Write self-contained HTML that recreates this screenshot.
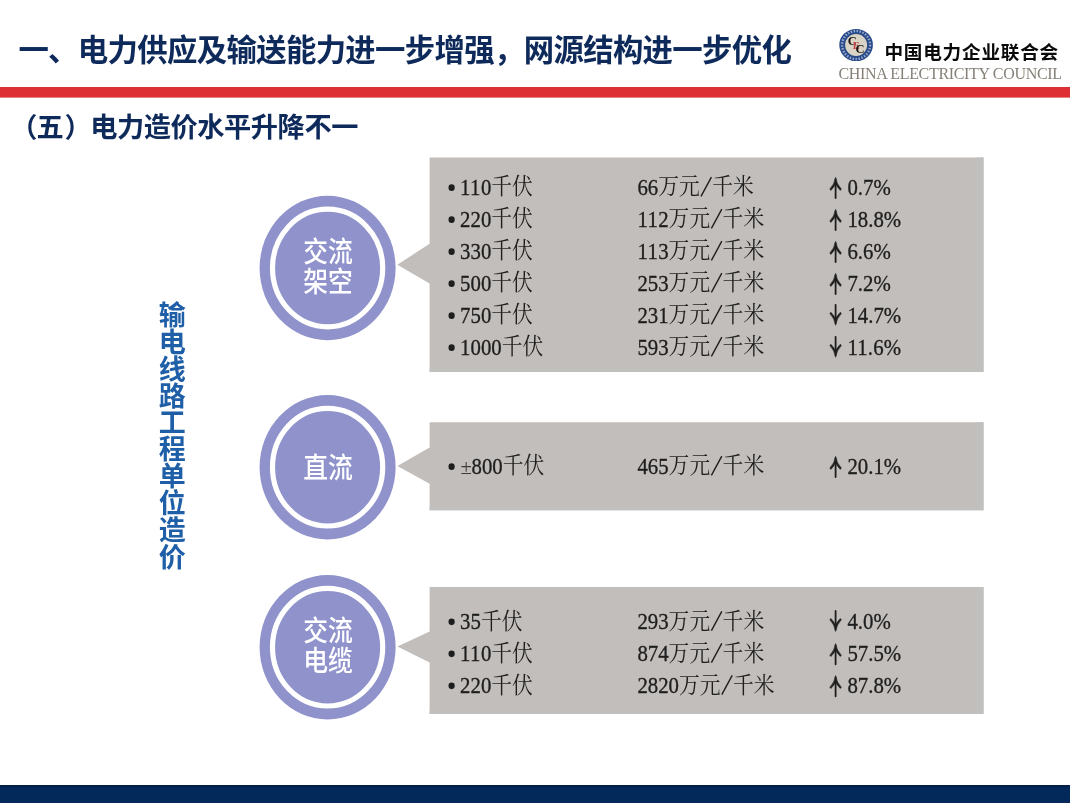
<!DOCTYPE html>
<html lang="zh-CN">
<head>
<meta charset="utf-8">
<title>电力造价水平升降不一</title>
<style>
html,body{margin:0;padding:0;background:#fff;}
body{width:1070px;height:803px;position:relative;overflow:hidden;font-family:"Liberation Sans",sans-serif;}
svg{position:absolute;left:0;top:0;display:block;}
.t{position:absolute;white-space:nowrap;color:transparent;line-height:1.1;font-family:"Liberation Serif",serif;overflow:hidden;pointer-events:none;}
.sb{font-family:"Liberation Sans","Noto Sans CJK SC",sans-serif;font-weight:bold;}
.sm{font-family:"Liberation Sans","Noto Sans CJK SC",sans-serif;font-weight:500;}
.ser{font-family:"Liberation Serif","Noto Serif CJK SC",serif;}
</style>
</head>
<body>
<svg width="1070" height="803" viewBox="0 0 1070 803" aria-hidden="true">
<defs><filter id="soft" x="-2%" y="-2%" width="104%" height="104%" color-interpolation-filters="sRGB"><feGaussianBlur stdDeviation="0.45"/></filter></defs>
<g filter="url(#soft)">
<rect x="-10" y="-10" width="1090" height="823" fill="#fff"/>
<text class="sb" x="18.4" y="61" font-size="30.4" textLength="773.5" lengthAdjust="spacing" fill="#0e2a5b">一、电力供应及输送能力进一步增强，网源结构进一步优化</text>
<rect x="-10" y="87" width="1090" height="10.6" fill="#dd3034"/>
<text class="sb" y="137.2" font-size="27.2" fill="#0e2a5b" x="10.2 36.58 64.56 90.14 116.92 143.7 170.48 197.26 224.04 250.82 277.6 304.38 331.16">（五）电力造价水平升降不一</text>
<g>
<ellipse cx="856.1" cy="45.0" rx="16.8" ry="16.1" fill="#27498a"/>
<circle cx="856.1" cy="45.0" r="14.000000000000002" fill="none" stroke="#c9d3e6" stroke-width="2.4" stroke-dasharray="1.5 1.5" opacity="0.7"/>
<circle cx="856.1" cy="45.0" r="11" fill="#d9d3c6"/>
<g font-family="'Liberation Serif',serif" font-weight="bold" font-size="12.5" text-anchor="middle">
<text x="852.3000000000001" y="45.4" fill="#16110f">C</text>
<text x="856.3000000000001" y="48.8" fill="#c8464a" font-size="10.5">E</text>
<text x="860.1" y="53.2" fill="#16110f">C</text>
</g></g>
<text class="sb" x="884.4" y="59.4" font-size="18.6" textLength="173.8" lengthAdjust="spacing" fill="#0a0a0a">中国电力企业联合会</text>
<text x="838.4" y="79.4" font-family="'Liberation Serif',serif" font-size="16.0" textLength="223.6" lengthAdjust="spacing" fill="#857f76">CHINA ELECTRICITY COUNCIL</text>
<text class="sb" font-size="27" fill="#1f5fa8" x="158.8 158.8 158.8 158.8 158.8 158.8 158.8 158.8 158.8 158.8" y="324.76 351.68 378.6 405.52 432.44 459.36 486.28 513.2 540.12 567.04">输电线路工程单位造价</text>
<ellipse cx="327.6" cy="268" rx="68.0" ry="72.2" fill="#8f92cb"/>
<ellipse cx="327.6" cy="268" rx="55.1" ry="58.8" fill="none" stroke="#fff" stroke-width="5.2"/>
<g transform="translate(328,266.4) scale(1,1.14)">
<text class="sm" x="-24.8" y="-3.68" font-size="24.8" fill="#fff">交流</text>
<text class="sm" x="-24.8" y="22.52" font-size="24.8" fill="#fff">架空</text>
</g>
<path d="M429.6 157.6H983.5V371.9H429.6V283.5L397.4 264.7L429.6 243.7Z" fill="#c2bebb"/>
<path d="M976.9 157.6H983.5V371.9H429.6V368.7H976.9Z" fill="#c0c0bf"/>
<g transform="translate(0,195) scale(1,1.067)">
<circle cx="451.6" cy="-6.9" r="3.1" fill="#1e1e1e"/>
<text x="460.08" y="0" font-family="'Liberation Serif',serif" font-size="20.8" textLength="31.2" lengthAdjust="spacing" fill="#1e1e1e" stroke="#1e1e1e" stroke-width="0.3">110</text>
<text class="ser" x="491.28" y="-0.5" font-size="20.8" fill="#1e1e1e">千伏</text>
<text x="637.4" y="0" font-family="'Liberation Serif',serif" font-size="20.8" textLength="20.8" lengthAdjust="spacing" fill="#1e1e1e" stroke="#1e1e1e" stroke-width="0.3">66</text>
<text class="ser" x="658.2" y="-0.5" font-size="20.8" fill="#1e1e1e">万元</text>
<path d="M701 1.4L711.4 -16.8" stroke="#1e1e1e" stroke-width="1.4" fill="none"/>
<text class="ser" x="712.2" y="-0.5" font-size="20.8" fill="#1e1e1e">千米</text>
<path d="M835.6 2.9V-14.7" fill="none" stroke="#1e1e1e" stroke-width="1.8" stroke-linecap="round"/><path d="M835.6 -16.6Q834.4 -10 829.8 -5.6L830.9 -4.3Q834.3 -7.6 835.6 -10.6Q836.9 -7.6 840.3 -4.3L841.4 -5.6Q836.8 -10 835.6 -16.6Z" fill="#1e1e1e" stroke="#1e1e1e" stroke-width="0.5" stroke-linejoin="round"/>
<text x="847.4" y="0" font-family="'Liberation Serif',serif" font-size="20.8" textLength="43.33" lengthAdjust="spacing" fill="#1e1e1e" stroke="#1e1e1e" stroke-width="0.3">0.7%</text>
</g>
<g transform="translate(0,227) scale(1,1.067)">
<circle cx="451.6" cy="-6.9" r="3.1" fill="#1e1e1e"/>
<text x="460.08" y="0" font-family="'Liberation Serif',serif" font-size="20.8" textLength="31.2" lengthAdjust="spacing" fill="#1e1e1e" stroke="#1e1e1e" stroke-width="0.3">220</text>
<text class="ser" x="491.28" y="-0.5" font-size="20.8" fill="#1e1e1e">千伏</text>
<text x="637.4" y="0" font-family="'Liberation Serif',serif" font-size="20.8" textLength="31.2" lengthAdjust="spacing" fill="#1e1e1e" stroke="#1e1e1e" stroke-width="0.3">112</text>
<text class="ser" x="668.6" y="-0.5" font-size="20.8" fill="#1e1e1e">万元</text>
<path d="M711.4 1.4L721.8 -16.8" stroke="#1e1e1e" stroke-width="1.4" fill="none"/>
<text class="ser" x="722.6" y="-0.5" font-size="20.8" fill="#1e1e1e">千米</text>
<path d="M835.6 2.9V-14.7" fill="none" stroke="#1e1e1e" stroke-width="1.8" stroke-linecap="round"/><path d="M835.6 -16.6Q834.4 -10 829.8 -5.6L830.9 -4.3Q834.3 -7.6 835.6 -10.6Q836.9 -7.6 840.3 -4.3L841.4 -5.6Q836.8 -10 835.6 -16.6Z" fill="#1e1e1e" stroke="#1e1e1e" stroke-width="0.5" stroke-linejoin="round"/>
<text x="847.4" y="0" font-family="'Liberation Serif',serif" font-size="20.8" textLength="53.73" lengthAdjust="spacing" fill="#1e1e1e" stroke="#1e1e1e" stroke-width="0.3">18.8%</text>
</g>
<g transform="translate(0,259) scale(1,1.067)">
<circle cx="451.6" cy="-6.9" r="3.1" fill="#1e1e1e"/>
<text x="460.08" y="0" font-family="'Liberation Serif',serif" font-size="20.8" textLength="31.2" lengthAdjust="spacing" fill="#1e1e1e" stroke="#1e1e1e" stroke-width="0.3">330</text>
<text class="ser" x="491.28" y="-0.5" font-size="20.8" fill="#1e1e1e">千伏</text>
<text x="637.4" y="0" font-family="'Liberation Serif',serif" font-size="20.8" textLength="31.2" lengthAdjust="spacing" fill="#1e1e1e" stroke="#1e1e1e" stroke-width="0.3">113</text>
<text class="ser" x="668.6" y="-0.5" font-size="20.8" fill="#1e1e1e">万元</text>
<path d="M711.4 1.4L721.8 -16.8" stroke="#1e1e1e" stroke-width="1.4" fill="none"/>
<text class="ser" x="722.6" y="-0.5" font-size="20.8" fill="#1e1e1e">千米</text>
<path d="M835.6 2.9V-14.7" fill="none" stroke="#1e1e1e" stroke-width="1.8" stroke-linecap="round"/><path d="M835.6 -16.6Q834.4 -10 829.8 -5.6L830.9 -4.3Q834.3 -7.6 835.6 -10.6Q836.9 -7.6 840.3 -4.3L841.4 -5.6Q836.8 -10 835.6 -16.6Z" fill="#1e1e1e" stroke="#1e1e1e" stroke-width="0.5" stroke-linejoin="round"/>
<text x="847.4" y="0" font-family="'Liberation Serif',serif" font-size="20.8" textLength="43.33" lengthAdjust="spacing" fill="#1e1e1e" stroke="#1e1e1e" stroke-width="0.3">6.6%</text>
</g>
<g transform="translate(0,291) scale(1,1.067)">
<circle cx="451.6" cy="-6.9" r="3.1" fill="#1e1e1e"/>
<text x="460.08" y="0" font-family="'Liberation Serif',serif" font-size="20.8" textLength="31.2" lengthAdjust="spacing" fill="#1e1e1e" stroke="#1e1e1e" stroke-width="0.3">500</text>
<text class="ser" x="491.28" y="-0.5" font-size="20.8" fill="#1e1e1e">千伏</text>
<text x="637.4" y="0" font-family="'Liberation Serif',serif" font-size="20.8" textLength="31.2" lengthAdjust="spacing" fill="#1e1e1e" stroke="#1e1e1e" stroke-width="0.3">253</text>
<text class="ser" x="668.6" y="-0.5" font-size="20.8" fill="#1e1e1e">万元</text>
<path d="M711.4 1.4L721.8 -16.8" stroke="#1e1e1e" stroke-width="1.4" fill="none"/>
<text class="ser" x="722.6" y="-0.5" font-size="20.8" fill="#1e1e1e">千米</text>
<path d="M835.6 2.9V-14.7" fill="none" stroke="#1e1e1e" stroke-width="1.8" stroke-linecap="round"/><path d="M835.6 -16.6Q834.4 -10 829.8 -5.6L830.9 -4.3Q834.3 -7.6 835.6 -10.6Q836.9 -7.6 840.3 -4.3L841.4 -5.6Q836.8 -10 835.6 -16.6Z" fill="#1e1e1e" stroke="#1e1e1e" stroke-width="0.5" stroke-linejoin="round"/>
<text x="847.4" y="0" font-family="'Liberation Serif',serif" font-size="20.8" textLength="43.33" lengthAdjust="spacing" fill="#1e1e1e" stroke="#1e1e1e" stroke-width="0.3">7.2%</text>
</g>
<g transform="translate(0,323) scale(1,1.067)">
<circle cx="451.6" cy="-6.9" r="3.1" fill="#1e1e1e"/>
<text x="460.08" y="0" font-family="'Liberation Serif',serif" font-size="20.8" textLength="31.2" lengthAdjust="spacing" fill="#1e1e1e" stroke="#1e1e1e" stroke-width="0.3">750</text>
<text class="ser" x="491.28" y="-0.5" font-size="20.8" fill="#1e1e1e">千伏</text>
<text x="637.4" y="0" font-family="'Liberation Serif',serif" font-size="20.8" textLength="31.2" lengthAdjust="spacing" fill="#1e1e1e" stroke="#1e1e1e" stroke-width="0.3">231</text>
<text class="ser" x="668.6" y="-0.5" font-size="20.8" fill="#1e1e1e">万元</text>
<path d="M711.4 1.4L721.8 -16.8" stroke="#1e1e1e" stroke-width="1.4" fill="none"/>
<text class="ser" x="722.6" y="-0.5" font-size="20.8" fill="#1e1e1e">千米</text>
<path d="M835.6 -17V0.3" fill="none" stroke="#1e1e1e" stroke-width="1.8" stroke-linecap="round"/><path d="M835.6 2.2Q834.4 -4.4 829.8 -8.8L830.9 -10.1Q834.3 -6.8 835.6 -3.8Q836.9 -6.8 840.3 -10.1L841.4 -8.8Q836.8 -4.4 835.6 2.2Z" fill="#1e1e1e" stroke="#1e1e1e" stroke-width="0.5" stroke-linejoin="round"/>
<text x="847.4" y="0" font-family="'Liberation Serif',serif" font-size="20.8" textLength="53.73" lengthAdjust="spacing" fill="#1e1e1e" stroke="#1e1e1e" stroke-width="0.3">14.7%</text>
</g>
<g transform="translate(0,355) scale(1,1.067)">
<circle cx="451.6" cy="-6.9" r="3.1" fill="#1e1e1e"/>
<text x="460.08" y="0" font-family="'Liberation Serif',serif" font-size="20.8" textLength="41.6" lengthAdjust="spacing" fill="#1e1e1e" stroke="#1e1e1e" stroke-width="0.3">1000</text>
<text class="ser" x="501.68" y="-0.5" font-size="20.8" fill="#1e1e1e">千伏</text>
<text x="637.4" y="0" font-family="'Liberation Serif',serif" font-size="20.8" textLength="31.2" lengthAdjust="spacing" fill="#1e1e1e" stroke="#1e1e1e" stroke-width="0.3">593</text>
<text class="ser" x="668.6" y="-0.5" font-size="20.8" fill="#1e1e1e">万元</text>
<path d="M711.4 1.4L721.8 -16.8" stroke="#1e1e1e" stroke-width="1.4" fill="none"/>
<text class="ser" x="722.6" y="-0.5" font-size="20.8" fill="#1e1e1e">千米</text>
<path d="M835.6 -17V0.3" fill="none" stroke="#1e1e1e" stroke-width="1.8" stroke-linecap="round"/><path d="M835.6 2.2Q834.4 -4.4 829.8 -8.8L830.9 -10.1Q834.3 -6.8 835.6 -3.8Q836.9 -6.8 840.3 -10.1L841.4 -8.8Q836.8 -4.4 835.6 2.2Z" fill="#1e1e1e" stroke="#1e1e1e" stroke-width="0.5" stroke-linejoin="round"/>
<text x="847.4" y="0" font-family="'Liberation Serif',serif" font-size="20.8" textLength="53.73" lengthAdjust="spacing" fill="#1e1e1e" stroke="#1e1e1e" stroke-width="0.3">11.6%</text>
</g>
<ellipse cx="327.6" cy="467.2" rx="68.0" ry="72.2" fill="#8f92cb"/>
<ellipse cx="327.6" cy="467.2" rx="55.1" ry="58.8" fill="none" stroke="#fff" stroke-width="5.2"/>
<g transform="translate(328,467.6) scale(1,1.14)">
<text class="sm" x="-24.8" y="9.42" font-size="24.8" fill="#fff">直流</text>
</g>
<path d="M429.6 422.3H983.5V510.3H429.6V483.8L397.4 466L429.6 447.4Z" fill="#c2bebb"/>
<path d="M976.9 422.3H983.5V510.3H429.6V507.1H976.9Z" fill="#c0c0bf"/>
<g transform="translate(0,474) scale(1,1.067)">
<circle cx="451.6" cy="-6.9" r="3.1" fill="#1e1e1e"/>
<text x="460.48" y="0" font-family="'Liberation Serif',serif" font-size="20.8" fill="#3c3c3c" transform="scale(1,0.97)">±</text>
<text x="471.5" y="0" font-family="'Liberation Serif',serif" font-size="20.8" textLength="31.2" lengthAdjust="spacing" fill="#1e1e1e" stroke="#1e1e1e" stroke-width="0.3">800</text>
<text class="ser" x="502.7" y="-0.5" font-size="20.8" fill="#1e1e1e">千伏</text>
<text x="637.4" y="0" font-family="'Liberation Serif',serif" font-size="20.8" textLength="31.2" lengthAdjust="spacing" fill="#1e1e1e" stroke="#1e1e1e" stroke-width="0.3">465</text>
<text class="ser" x="668.6" y="-0.5" font-size="20.8" fill="#1e1e1e">万元</text>
<path d="M711.4 1.4L721.8 -16.8" stroke="#1e1e1e" stroke-width="1.4" fill="none"/>
<text class="ser" x="722.6" y="-0.5" font-size="20.8" fill="#1e1e1e">千米</text>
<path d="M835.6 2.9V-14.7" fill="none" stroke="#1e1e1e" stroke-width="1.8" stroke-linecap="round"/><path d="M835.6 -16.6Q834.4 -10 829.8 -5.6L830.9 -4.3Q834.3 -7.6 835.6 -10.6Q836.9 -7.6 840.3 -4.3L841.4 -5.6Q836.8 -10 835.6 -16.6Z" fill="#1e1e1e" stroke="#1e1e1e" stroke-width="0.5" stroke-linejoin="round"/>
<text x="847.4" y="0" font-family="'Liberation Serif',serif" font-size="20.8" textLength="53.73" lengthAdjust="spacing" fill="#1e1e1e" stroke="#1e1e1e" stroke-width="0.3">20.1%</text>
</g>
<ellipse cx="327.6" cy="647.2" rx="68.0" ry="72.2" fill="#8f92cb"/>
<ellipse cx="327.6" cy="647.2" rx="55.1" ry="58.8" fill="none" stroke="#fff" stroke-width="5.2"/>
<g transform="translate(328,645.6) scale(1,1.14)">
<text class="sm" x="-24.8" y="-3.68" font-size="24.8" fill="#fff">交流</text>
<text class="sm" x="-24.8" y="22.52" font-size="24.8" fill="#fff">电缆</text>
</g>
<path d="M429.6 586.9H983.5V713.9H429.6V662.4L397.4 646.6L429.6 631.4Z" fill="#c2bebb"/>
<path d="M976.9 586.9H983.5V713.9H429.6V710.7H976.9Z" fill="#c0c0bf"/>
<g transform="translate(0,629.2) scale(1,1.067)">
<circle cx="451.6" cy="-6.9" r="3.1" fill="#1e1e1e"/>
<text x="460.08" y="0" font-family="'Liberation Serif',serif" font-size="20.8" textLength="20.8" lengthAdjust="spacing" fill="#1e1e1e" stroke="#1e1e1e" stroke-width="0.3">35</text>
<text class="ser" x="480.88" y="-0.5" font-size="20.8" fill="#1e1e1e">千伏</text>
<text x="637.4" y="0" font-family="'Liberation Serif',serif" font-size="20.8" textLength="31.2" lengthAdjust="spacing" fill="#1e1e1e" stroke="#1e1e1e" stroke-width="0.3">293</text>
<text class="ser" x="668.6" y="-0.5" font-size="20.8" fill="#1e1e1e">万元</text>
<path d="M711.4 1.4L721.8 -16.8" stroke="#1e1e1e" stroke-width="1.4" fill="none"/>
<text class="ser" x="722.6" y="-0.5" font-size="20.8" fill="#1e1e1e">千米</text>
<path d="M835.6 -17V0.3" fill="none" stroke="#1e1e1e" stroke-width="1.8" stroke-linecap="round"/><path d="M835.6 2.2Q834.4 -4.4 829.8 -8.8L830.9 -10.1Q834.3 -6.8 835.6 -3.8Q836.9 -6.8 840.3 -10.1L841.4 -8.8Q836.8 -4.4 835.6 2.2Z" fill="#1e1e1e" stroke="#1e1e1e" stroke-width="0.5" stroke-linejoin="round"/>
<text x="847.4" y="0" font-family="'Liberation Serif',serif" font-size="20.8" textLength="43.33" lengthAdjust="spacing" fill="#1e1e1e" stroke="#1e1e1e" stroke-width="0.3">4.0%</text>
</g>
<g transform="translate(0,661.2) scale(1,1.067)">
<circle cx="451.6" cy="-6.9" r="3.1" fill="#1e1e1e"/>
<text x="460.08" y="0" font-family="'Liberation Serif',serif" font-size="20.8" textLength="31.2" lengthAdjust="spacing" fill="#1e1e1e" stroke="#1e1e1e" stroke-width="0.3">110</text>
<text class="ser" x="491.28" y="-0.5" font-size="20.8" fill="#1e1e1e">千伏</text>
<text x="637.4" y="0" font-family="'Liberation Serif',serif" font-size="20.8" textLength="31.2" lengthAdjust="spacing" fill="#1e1e1e" stroke="#1e1e1e" stroke-width="0.3">874</text>
<text class="ser" x="668.6" y="-0.5" font-size="20.8" fill="#1e1e1e">万元</text>
<path d="M711.4 1.4L721.8 -16.8" stroke="#1e1e1e" stroke-width="1.4" fill="none"/>
<text class="ser" x="722.6" y="-0.5" font-size="20.8" fill="#1e1e1e">千米</text>
<path d="M835.6 2.9V-14.7" fill="none" stroke="#1e1e1e" stroke-width="1.8" stroke-linecap="round"/><path d="M835.6 -16.6Q834.4 -10 829.8 -5.6L830.9 -4.3Q834.3 -7.6 835.6 -10.6Q836.9 -7.6 840.3 -4.3L841.4 -5.6Q836.8 -10 835.6 -16.6Z" fill="#1e1e1e" stroke="#1e1e1e" stroke-width="0.5" stroke-linejoin="round"/>
<text x="847.4" y="0" font-family="'Liberation Serif',serif" font-size="20.8" textLength="53.73" lengthAdjust="spacing" fill="#1e1e1e" stroke="#1e1e1e" stroke-width="0.3">57.5%</text>
</g>
<g transform="translate(0,693.2) scale(1,1.067)">
<circle cx="451.6" cy="-6.9" r="3.1" fill="#1e1e1e"/>
<text x="460.08" y="0" font-family="'Liberation Serif',serif" font-size="20.8" textLength="31.2" lengthAdjust="spacing" fill="#1e1e1e" stroke="#1e1e1e" stroke-width="0.3">220</text>
<text class="ser" x="491.28" y="-0.5" font-size="20.8" fill="#1e1e1e">千伏</text>
<text x="637.4" y="0" font-family="'Liberation Serif',serif" font-size="20.8" textLength="41.6" lengthAdjust="spacing" fill="#1e1e1e" stroke="#1e1e1e" stroke-width="0.3">2820</text>
<text class="ser" x="679" y="-0.5" font-size="20.8" fill="#1e1e1e">万元</text>
<path d="M721.8 1.4L732.2 -16.8" stroke="#1e1e1e" stroke-width="1.4" fill="none"/>
<text class="ser" x="733" y="-0.5" font-size="20.8" fill="#1e1e1e">千米</text>
<path d="M835.6 2.9V-14.7" fill="none" stroke="#1e1e1e" stroke-width="1.8" stroke-linecap="round"/><path d="M835.6 -16.6Q834.4 -10 829.8 -5.6L830.9 -4.3Q834.3 -7.6 835.6 -10.6Q836.9 -7.6 840.3 -4.3L841.4 -5.6Q836.8 -10 835.6 -16.6Z" fill="#1e1e1e" stroke="#1e1e1e" stroke-width="0.5" stroke-linejoin="round"/>
<text x="847.4" y="0" font-family="'Liberation Serif',serif" font-size="20.8" textLength="53.73" lengthAdjust="spacing" fill="#1e1e1e" stroke="#1e1e1e" stroke-width="0.3">87.8%</text>
</g>
<rect x="-10" y="785" width="1090" height="28" fill="#03295a"/>
<rect x="-10" y="785" width="1090" height="2.4" fill="#021f4b"/>
</g>
</svg>
<div id="text-layer">
<div class="t" style="left:18.4px;top:30px;font-size:29.75px">一、电力供应及输送能力进一步增强，网源结构进一步优化</div>
<div class="t" style="left:9.8px;top:109px;font-size:26.78px">（五）电力造价水平升降不一</div>
<div class="t" style="left:884.6px;top:42px;font-size:19.3px">中国电力企业联合会</div>
<div class="t" style="left:838.4px;top:66px;font-size:15px">CHINA ELECTRICITY COUNCIL</div>
<div class="t" style="left:159px;top:300px;width:27px;font-size:26.7px;line-height:26.9px;white-space:normal;word-break:break-all">输电线路工程单位造价</div>
<div class="t" style="left:302.8px;top:240.67px;font-size:24.8px">交流</div>
<div class="t" style="left:302.8px;top:270.53px;font-size:24.8px">架空</div>
<div class="t" style="left:447.6px;top:176px;font-size:20.8px">• 110千伏</div>
<div class="t" style="left:637.4px;top:176px;font-size:20.8px">66万元/千米</div>
<div class="t" style="left:826px;top:176px;font-size:20.8px">↑0.7%</div>
<div class="t" style="left:447.6px;top:208px;font-size:20.8px">• 220千伏</div>
<div class="t" style="left:637.4px;top:208px;font-size:20.8px">112万元/千米</div>
<div class="t" style="left:826px;top:208px;font-size:20.8px">↑18.8%</div>
<div class="t" style="left:447.6px;top:240px;font-size:20.8px">• 330千伏</div>
<div class="t" style="left:637.4px;top:240px;font-size:20.8px">113万元/千米</div>
<div class="t" style="left:826px;top:240px;font-size:20.8px">↑6.6%</div>
<div class="t" style="left:447.6px;top:272px;font-size:20.8px">• 500千伏</div>
<div class="t" style="left:637.4px;top:272px;font-size:20.8px">253万元/千米</div>
<div class="t" style="left:826px;top:272px;font-size:20.8px">↑7.2%</div>
<div class="t" style="left:447.6px;top:304px;font-size:20.8px">• 750千伏</div>
<div class="t" style="left:637.4px;top:304px;font-size:20.8px">231万元/千米</div>
<div class="t" style="left:826px;top:304px;font-size:20.8px">↓14.7%</div>
<div class="t" style="left:447.6px;top:336px;font-size:20.8px">• 1000千伏</div>
<div class="t" style="left:637.4px;top:336px;font-size:20.8px">593万元/千米</div>
<div class="t" style="left:826px;top:336px;font-size:20.8px">↓11.6%</div>
<div class="t" style="left:302.8px;top:454.8px;font-size:24.8px">直流</div>
<div class="t" style="left:447.6px;top:455px;font-size:20.8px">• ±800千伏</div>
<div class="t" style="left:637.4px;top:455px;font-size:20.8px">465万元/千米</div>
<div class="t" style="left:826px;top:455px;font-size:20.8px">↑20.1%</div>
<div class="t" style="left:302.8px;top:619.87px;font-size:24.8px">交流</div>
<div class="t" style="left:302.8px;top:649.73px;font-size:24.8px">电缆</div>
<div class="t" style="left:447.6px;top:610.2px;font-size:20.8px">• 35千伏</div>
<div class="t" style="left:637.4px;top:610.2px;font-size:20.8px">293万元/千米</div>
<div class="t" style="left:826px;top:610.2px;font-size:20.8px">↓4.0%</div>
<div class="t" style="left:447.6px;top:642.2px;font-size:20.8px">• 110千伏</div>
<div class="t" style="left:637.4px;top:642.2px;font-size:20.8px">874万元/千米</div>
<div class="t" style="left:826px;top:642.2px;font-size:20.8px">↑57.5%</div>
<div class="t" style="left:447.6px;top:674.2px;font-size:20.8px">• 220千伏</div>
<div class="t" style="left:637.4px;top:674.2px;font-size:20.8px">2820万元/千米</div>
<div class="t" style="left:826px;top:674.2px;font-size:20.8px">↑87.8%</div>
</div>
</body>
</html>
